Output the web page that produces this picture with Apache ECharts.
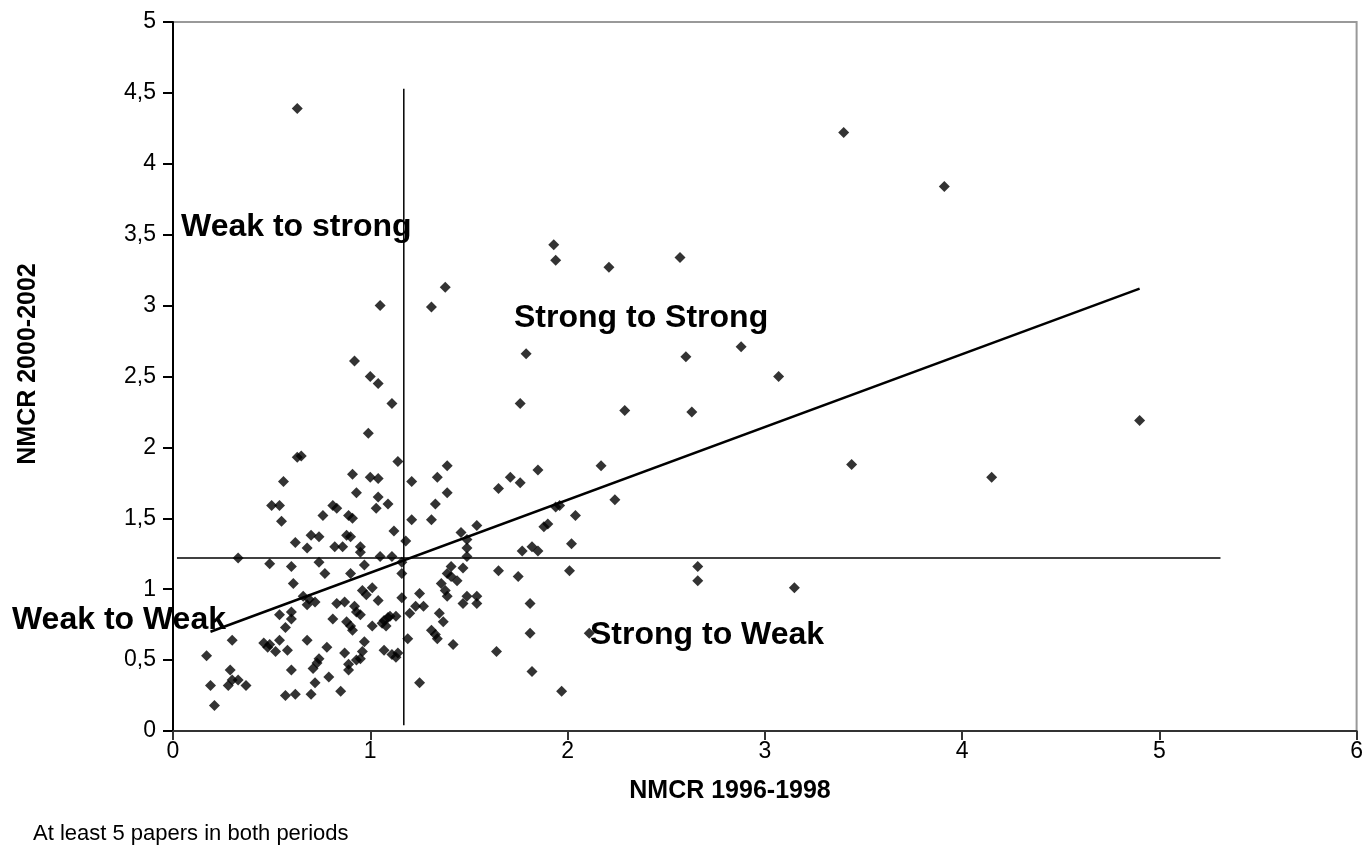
<!DOCTYPE html>
<html>
<head>
<meta charset="utf-8">
<script src="https://cdn.jsdelivr.net/npm/echarts@6/dist/echarts.min.js"></script>
<style>
html,body{margin:0;padding:0;background:#fff;}
#chart{width:1366px;height:850px;}
</style>
</head>
<body>
<div id="chart"></div>
<script>
// NMCR 1996-1998 (x) vs NMCR 2000-2002 (y), grouped by quadrant
var weakToStrong = [
  [0.63,1.93],[0.65,1.94],[0.56,1.76],[0.50,1.59],[0.54,1.59],[0.55,1.48],[0.76,1.52],
  [0.62,1.33],[0.70,1.38],[0.74,1.37],[0.68,1.29],[0.99,2.10],[1.14,1.90],[0.91,1.81],
  [1.00,1.79],[1.04,1.78],[0.93,1.68],[1.04,1.65],[1.03,1.57],[1.09,1.60],[0.81,1.59],
  [0.83,1.57],[0.89,1.52],[0.91,1.50],[1.12,1.41],[0.88,1.38],[0.90,1.37],[0.82,1.30],
  [0.86,1.30],[0.95,1.30],[0.95,1.26],[0.63,4.39],[1.05,3.00],[0.92,2.61],[1.00,2.50],
  [1.04,2.45],[1.11,2.31]
];
var weakToWeak = [
  [0.33,1.22],[0.49,1.18],[0.60,1.16],[0.74,1.19],[0.77,1.11],[0.61,1.04],[0.66,0.95],
  [0.69,0.93],[0.68,0.89],[0.72,0.91],[0.54,0.82],[0.60,0.84],[0.60,0.79],[0.57,0.73],
  [0.30,0.64],[0.46,0.62],[0.48,0.59],[0.49,0.61],[0.52,0.56],[0.54,0.64],[0.58,0.57],
  [0.68,0.64],[0.17,0.53],[0.29,0.43],[0.30,0.36],[0.33,0.36],[0.37,0.32],[0.28,0.32],
  [0.19,0.32],[0.21,0.18],[0.60,0.43],[0.57,0.25],[0.62,0.26],[0.70,0.26],[0.74,0.51],
  [0.71,0.44],[0.73,0.48],[0.72,0.34],[0.78,0.59],[0.79,0.38],[1.05,1.23],[1.11,1.23],
  [1.16,1.19],[0.97,1.17],[0.90,1.11],[1.16,1.11],[0.96,0.99],[0.98,0.96],[1.01,1.01],
  [1.04,0.92],[1.16,0.94],[0.83,0.90],[0.87,0.91],[0.92,0.88],[0.93,0.84],[0.95,0.82],
  [0.81,0.79],[0.88,0.77],[0.90,0.74],[0.91,0.71],[1.01,0.74],[1.07,0.78],[1.09,0.80],
  [1.10,0.81],[1.13,0.81],[1.08,0.74],[1.06,0.76],[0.97,0.63],[0.87,0.55],[0.89,0.47],
  [0.89,0.43],[0.96,0.56],[0.95,0.51],[0.93,0.50],[1.07,0.57],[1.11,0.54],[1.14,0.55],
  [1.13,0.52],[0.85,0.28]
];
var strongToStrong = [
  [1.21,1.76],[1.39,1.87],[1.34,1.79],[1.39,1.68],[1.33,1.60],[1.21,1.49],[1.31,1.49],
  [1.18,1.34],[1.46,1.40],[1.54,1.45],[1.49,1.35],[1.49,1.29],[1.49,1.23],[1.85,1.84],
  [1.71,1.79],[1.76,1.75],[1.65,1.71],[2.17,1.87],[2.24,1.63],[2.04,1.52],[1.94,1.58],
  [1.96,1.59],[1.90,1.46],[1.88,1.44],[1.77,1.27],[1.82,1.30],[1.85,1.27],[2.02,1.32],
  [1.31,2.99],[1.38,3.13],[1.93,3.43],[1.94,3.32],[1.79,2.66],[1.76,2.31],[2.21,3.27],
  [2.57,3.34],[3.40,4.22],[2.60,2.64],[2.88,2.71],[3.07,2.50],[2.29,2.26],[2.63,2.25],
  [3.44,1.88],[3.91,3.84],[4.90,2.19],[4.15,1.79]
];
var strongToWeak = [
  [1.41,1.16],[1.47,1.15],[1.39,1.11],[1.41,1.09],[1.44,1.06],[1.36,1.04],[1.38,0.99],
  [1.39,0.95],[1.25,0.97],[1.27,0.88],[1.23,0.88],[1.20,0.83],[1.49,0.95],[1.47,0.90],
  [1.35,0.83],[1.37,0.77],[1.31,0.71],[1.33,0.68],[1.34,0.65],[1.19,0.65],[1.42,0.61],
  [1.25,0.34],[1.65,1.13],[1.75,1.09],[2.01,1.13],[1.54,0.95],[1.54,0.90],[1.81,0.90],
  [1.81,0.69],[2.11,0.69],[1.64,0.56],[1.82,0.42],[1.97,0.28],[2.66,1.16],[2.66,1.06],
  [3.15,1.01]
];
var trendLine = [[0.19,0.70],[4.90,3.12]];
var verticalDivider = [[1.17,0.04],[1.17,4.53]];
var horizontalDivider = [[0.02,1.22],[5.31,1.22]];
var quadrantLabels = ['Weak to strong','Strong to Strong','Weak to Weak','Strong to Weak'];
var xTitle = 'NMCR 1996-1998';
var yTitle = 'NMCR 2000-2002';
var footnote = 'At least 5 papers in both periods';

var chart = echarts.init(document.getElementById('chart'), null, {renderer:'canvas'});
var fam = '"Liberation Sans", Arial, Helvetica, sans-serif';
function comma(v){ return String(v).replace('.', ','); }
var pointStyle = {type:'scatter', symbol:'diamond', symbolSize:11, itemStyle:{color:'#000'}, z:5, silent:true};
function lineSeries(d, w){
  return {type:'line', data:d, symbol:'none', lineStyle:{color:'#000', width:w}, z:3, silent:true, animation:false};
}
var option = {
  animation:false,
  backgroundColor:'#fff',
  grid:{left:173, top:22, right:9, bottom:119, show:true, borderColor:'#999', borderWidth:2, backgroundColor:'transparent'},
  xAxis:{type:'value', min:0, max:6, interval:1,
    axisLine:{show:true, onZero:false, lineStyle:{color:'#333', width:2}},
    axisTick:{show:true, inside:false, length:9, lineStyle:{color:'#333', width:2}},
    axisLabel:{color:'#000', fontSize:23, fontFamily:fam, margin:9, formatter:comma},
    splitLine:{show:false}},
  yAxis:{type:'value', min:0, max:5, interval:0.5,
    axisLine:{show:true, onZero:false, lineStyle:{color:'#000', width:2}},
    axisTick:{show:true, inside:false, length:10, lineStyle:{color:'#000', width:2}},
    axisLabel:{color:'#000', fontSize:23, fontFamily:fam, margin:17, formatter:comma},
    splitLine:{show:false}},
  series:[
    lineSeries(verticalDivider, 1.5),
    lineSeries(horizontalDivider, 1.5),
    lineSeries(trendLine, 2.5),
    Object.assign({data:weakToStrong}, pointStyle),
    Object.assign({data:weakToWeak}, pointStyle),
    Object.assign({data:strongToStrong}, pointStyle),
    Object.assign({data:strongToWeak}, pointStyle)
  ],
  graphic:[
    {type:'text', z:10, style:{text:quadrantLabels[0], x:181, y:227, fill:'#000', font:'bold 32px '+fam, align:'left', verticalAlign:'middle'}},
    {type:'text', z:10, style:{text:quadrantLabels[1], x:514, y:318, fill:'#000', font:'bold 32px '+fam, align:'left', verticalAlign:'middle'}},
    {type:'text', z:10, style:{text:quadrantLabels[2], x:226, y:620, fill:'#000', font:'bold 32px '+fam, align:'right', verticalAlign:'middle'}},
    {type:'text', z:10, style:{text:quadrantLabels[3], x:590, y:635, fill:'#000', font:'bold 32px '+fam, align:'left', verticalAlign:'middle'}},
    {type:'text', z:10, style:{text:xTitle, x:730, y:791, fill:'#000', font:'bold 25px '+fam, align:'center', verticalAlign:'middle'}},
    {type:'text', z:10, rotation:Math.PI/2, x:28, y:364, style:{text:yTitle, x:0, y:0, fill:'#000', font:'bold 25px '+fam, align:'center', verticalAlign:'middle'}},
    {type:'text', z:10, style:{text:footnote, x:33, y:834, fill:'#000', font:'22px '+fam, align:'left', verticalAlign:'middle'}}
  ]
};
chart.setOption(option);
</script>
</body>
</html>
